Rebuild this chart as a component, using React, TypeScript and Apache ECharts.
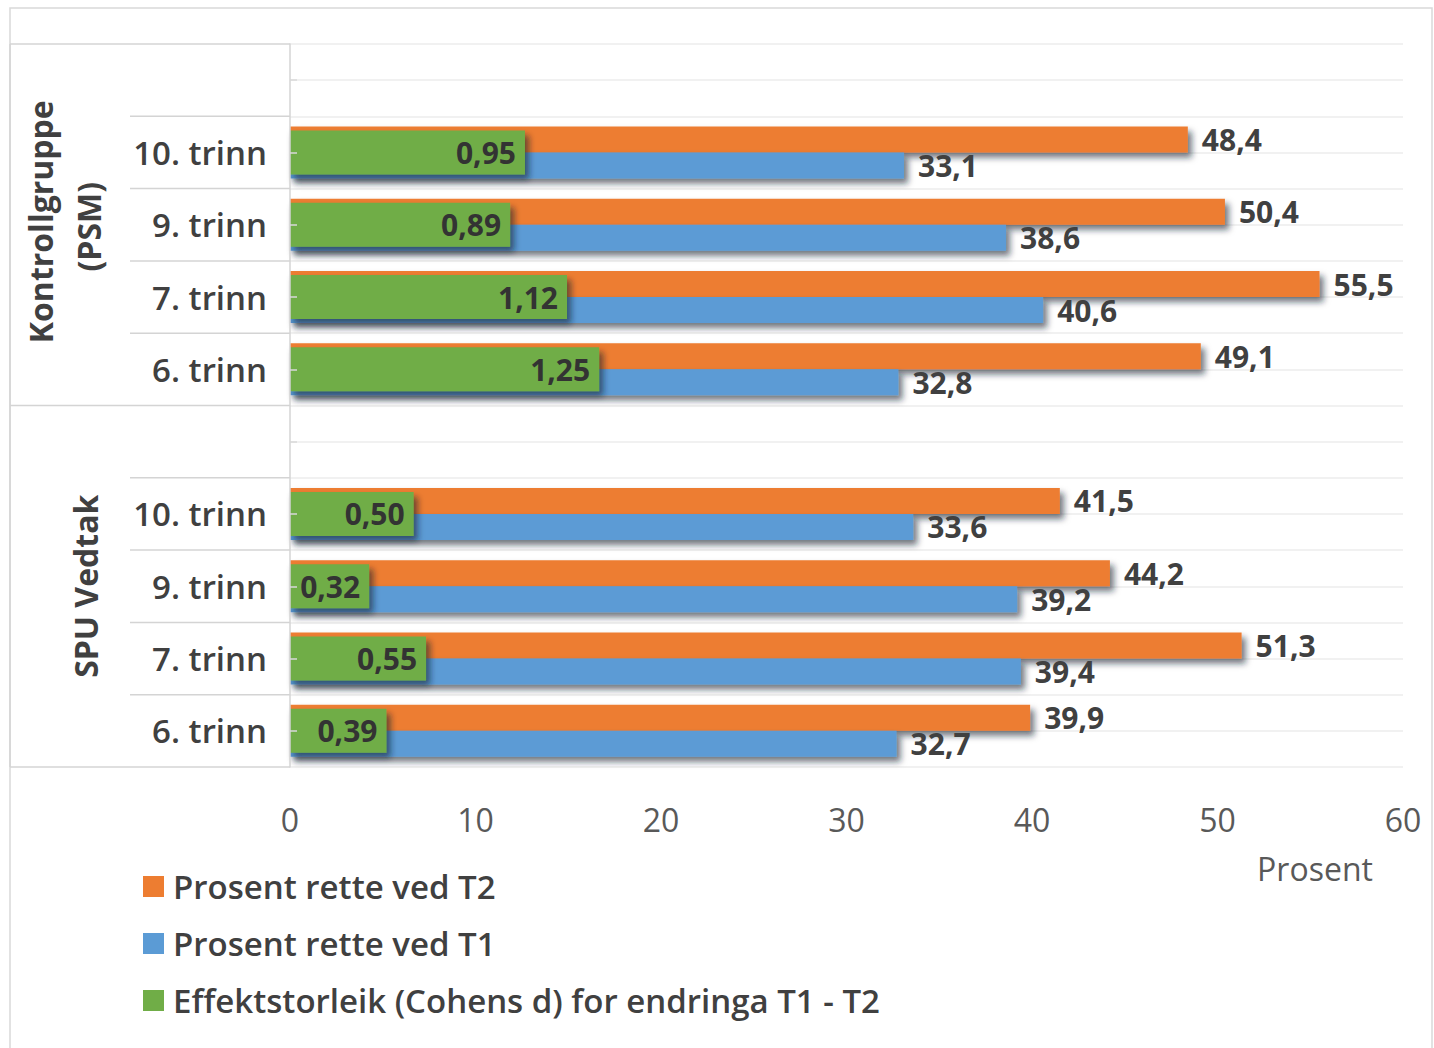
import React, { useEffect, useRef } from "react";
import * as echarts from "echarts";

const categories = ["", "10. trinn", "9. trinn", "7. trinn", "6. trinn", "", "10. trinn", "9. trinn", "7. trinn", "6. trinn"];
const seriesT2 = [null, 48.4, 50.4, 55.5, 49.1, null, 41.5, 44.2, 51.3, 39.9];
const seriesT1 = [null, 33.1, 38.6, 40.6, 32.8, null, 33.6, 39.2, 39.4, 32.7];
const cohensD = [null, 0.95, 0.89, 1.12, 1.25, null, 0.5, 0.32, 0.55, 0.39];
const seriesNames = ["Prosent rette ved T2", "Prosent rette ved T1", "Effektstorleik (Cohens d) for endringa T1 - T2"];
const groupLabels = [["Kontrollgruppe", "(PSM)"], ["SPU Vedtak"]];
const xMin = 0;
const xMax = 60;
const xInterval = 10;
const dMax = 4.5;
const axisName = "Prosent";

const W = 1434;
const H = 1048;
const FONT = "'Open Sans', 'Noto Sans', sans-serif";
const GRID = { left: 290, right: 31, top: 44, bottom: 281 };

export default function App() {
  const ref = useRef<HTMLDivElement>(null);
  useEffect(() => {
    document.body.style.margin = "0";
    const chart = echarts.init(ref.current!, null, { renderer: "svg" });
    const plotTop = GRID.top;
    const plotBottom = H - GRID.bottom;
    const plotLeft = GRID.left;
    const rowH = (plotBottom - plotTop) / categories.length;
    const fmt = (d: number) => (p: any) =>
      p.value == null ? "" : Number(p.value).toFixed(d).replace(".", ",");
    const lineColor = "#d4d4d4";
    const shadow = {
      shadowColor: "rgba(20,30,45,0.6)",
      shadowBlur: 6,
      shadowOffsetX: 4,
      shadowOffsetY: 5,
    };
    const valueLabel = {
      show: true,
      position: "right",
      distance: 14,
      fontFamily: FONT,
      fontSize: 30,
      fontWeight: "bold",
      color: "#404040",
      formatter: fmt(1),
    };

    const graphics: any[] = [
      { type: "rect", silent: true, shape: { x: 10, y: 8, width: 1422, height: 1070 }, style: { fill: "none", stroke: "#d9d9d9", lineWidth: 1.5 } },
      { type: "line", silent: true, shape: { x1: 10, y1: plotTop, x2: plotLeft, y2: plotTop }, style: { stroke: lineColor, lineWidth: 1.5 } },
      { type: "line", silent: true, shape: { x1: 10, y1: plotTop, x2: 10, y2: plotBottom }, style: { stroke: lineColor, lineWidth: 1.5 } },
      { type: "line", silent: true, shape: { x1: 10, y1: plotBottom, x2: plotLeft, y2: plotBottom }, style: { stroke: lineColor, lineWidth: 1.5 } },
    ];
    for (let i = 1; i < categories.length; i++) {
      const y = plotTop + i * rowH;
      const x1 = i === 5 ? 10 : 130;
      graphics.push({ type: "line", silent: true, shape: { x1, y1: y, x2: plotLeft, y2: y }, style: { stroke: lineColor, lineWidth: 1.5 } });
    }
    const g1c = plotTop + rowH * 2.5;
    const g2c = plotTop + rowH * 7.5;
    const groupStyle = { fontFamily: FONT, fontSize: 32, fontWeight: "bold", fill: "#404040", align: "center", verticalAlign: "middle" };
    graphics.push({ type: "text", silent: true, x: 40, y: g1c - 3, rotation: Math.PI / 2, style: { ...groupStyle, text: groupLabels[0][0] } });
    graphics.push({ type: "text", silent: true, x: 88, y: g1c + 2, rotation: Math.PI / 2, style: { ...groupStyle, text: groupLabels[0][1] } });
    graphics.push({ type: "text", silent: true, x: 85, y: g2c, rotation: Math.PI / 2, style: { ...groupStyle, text: groupLabels[1][0] } });
    graphics.push({ type: "text", silent: true, x: 1315, y: 868, style: { text: axisName, fontFamily: FONT, fontSize: 32, fill: "#595959", align: "center", verticalAlign: "middle" } });

    const option: any = {
      animation: false,
      backgroundColor: "#ffffff",
      textStyle: { fontFamily: FONT },
      grid: { left: GRID.left, right: GRID.right, top: GRID.top, bottom: GRID.bottom, containLabel: false },
      legend: {
        data: seriesNames,
        orient: "vertical",
        left: 143,
        top: 870,
        padding: 0,
        icon: "rect",
        itemWidth: 21,
        itemHeight: 21,
        itemGap: 24,
        selectedMode: false,
        textStyle: { fontFamily: FONT, fontSize: 33, lineHeight: 33, fontWeight: 600, color: "#404040", padding: [0, 0, 0, 4] },
      },
      xAxis: [
        {
          type: "value",
          min: xMin,
          max: xMax,
          interval: xInterval,
          position: "bottom",
          axisLine: { show: false },
          axisTick: { show: false },
          splitLine: { show: false },
          axisLabel: { fontFamily: FONT, fontSize: 32, color: "#595959", margin: 36 },
        },
        { type: "value", min: 0, max: dMax, show: false, position: "top" },
      ],
      yAxis: [
        {
          type: "category",
          data: categories,
          inverse: true,
          position: "left",
          axisLine: { show: true, lineStyle: { color: lineColor, width: 1.5 } },
          axisTick: { show: true, inside: true, alignWithLabel: true, length: 7, lineStyle: { color: "#d9d9d9", width: 1.5 } },
          splitLine: { show: false },
          axisLabel: { fontFamily: FONT, fontSize: 33, fontWeight: 600, color: "#404040", margin: 23 },
          z: 5,
        },
        { type: "category", data: categories, inverse: true, show: false, position: "left" },
        {
          type: "category",
          data: new Array(categories.length * 2).fill(""),
          position: "right",
          axisLine: { show: false },
          axisTick: { show: false },
          axisLabel: { show: false },
          splitLine: { show: true, lineStyle: { color: "#ececec", width: 1.5 } },
        },
      ],
      series: [
        {
          name: seriesNames[0],
          type: "bar",
          xAxisIndex: 0,
          yAxisIndex: 0,
          data: seriesT2,
          barWidth: 26,
          barGap: "0%",
          itemStyle: { color: "#ED7D31", ...shadow },
          label: valueLabel,
        },
        {
          name: seriesNames[1],
          type: "bar",
          xAxisIndex: 0,
          yAxisIndex: 0,
          data: seriesT1,
          barWidth: 26,
          barGap: "0%",
          itemStyle: { color: "#5B9BD5", ...shadow },
          label: valueLabel,
        },
        {
          name: seriesNames[2],
          type: "bar",
          xAxisIndex: 1,
          yAxisIndex: 1,
          data: cohensD,
          barWidth: 44,
          itemStyle: { color: "#70AD47", ...shadow },
          label: {
            show: true,
            position: "insideRight",
            distance: 9,
            fontFamily: FONT,
            fontSize: 30,
            fontWeight: "bold",
            color: "#333333",
            formatter: fmt(2),
          },
        },
      ],
      graphic: { elements: graphics },
    };
    chart.setOption(option);
    return () => chart.dispose();
  }, []);
  return <div ref={ref} style={{ width: W, height: H }} />;
}
